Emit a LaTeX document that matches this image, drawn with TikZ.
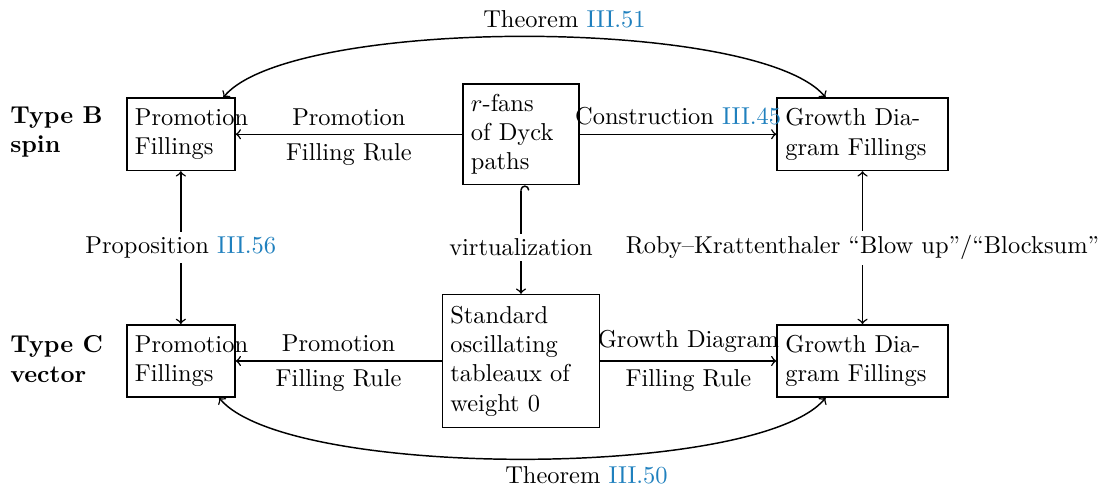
\documentclass[tikz,border=0pt]{standalone}
\usetikzlibrary{positioning,arrows}
\definecolor{refblue}{RGB}{31,128,190}
\newcommand{\thmref}[1]{\textcolor{refblue}{III.#1}}

\begin{document}
\begin{tikzpicture}[->,>=to,semithick]
        \tikzstyle{box}=[draw,rectangle,align=left,inner sep=3.33pt]
        \tikzstyle{promo}=[box,text width=1.32cm,minimum height=1.04cm]
        \tikzstyle{growth}=[box,text width=2.22cm,minimum height=1.04cm]
        \tikzstyle{lbl}=[fill=white,inner sep=2pt]
        \tikzstyle{kind}=[anchor=west,align=left,font=\bfseries]
        \useasboundingbox (0,0) rectangle (15.8,7.02);
        % type B row
        \node[kind] (tb) at (0.02,5.12) {Type B\\spin};
        \node[promo] (pfb) at (2.60,5.09) {Promotion\\Fillings};
        \node[box,text width=1.44cm,minimum height=1.45cm] (rf) at (7.49,5.09) {$r$-fans\\of Dyck\\paths};
        \node[growth] (gdb) at (12.40,5.09) {Growth Dia-\\gram Fillings};
        % type C row
        \node[kind] (tc) at (0.02,1.86) {Type C\\vector};
        \node[promo] (pfc) at (2.60,1.83) {Promotion\\Fillings};
        \node[box,text width=2.03cm,minimum height=1.91cm] (st) at (7.49,1.83) {Standard\\oscillating\\tableaux of\\weight 0};
        \node[growth] (gdc) at (12.40,1.83) {Growth Dia-\\gram Fillings};
        % maps
        \draw (rf) -- node[above] {Promotion} node[below] {Filling Rule} (pfb);
        \draw (rf) -- node[above] {Construction \thmref{45}} (gdb);
        \draw[right hook->] (rf) -- node[lbl,pos=0.57] {virtualization} (st);
        \draw (st) -- node[above] {Promotion} node[below] {Filling Rule} (pfc);
        \draw (st) -- node[above] {Growth Diagram} node[below] {Filling Rule} (gdc);
        \draw[<->] (pfb) -- node[lbl] {Proposition \thmref{56}} (pfc);
        \draw[<->] (gdb) -- node[lbl] {Roby–Krattenthaler “Blow up”/“Blocksum”} (gdc);
        \draw[<->] (pfb.41) to[out=50,in=130,looseness=0.45]
            node[above,pos=0.55] {Theorem \thmref{51}} (gdb.135);
        \draw[<->] (pfc.-44) to[out=-50,in=-130,looseness=0.45]
            node[below,pos=0.58] {Theorem \thmref{50}} (gdc.225);
\end{tikzpicture}
\end{document}
